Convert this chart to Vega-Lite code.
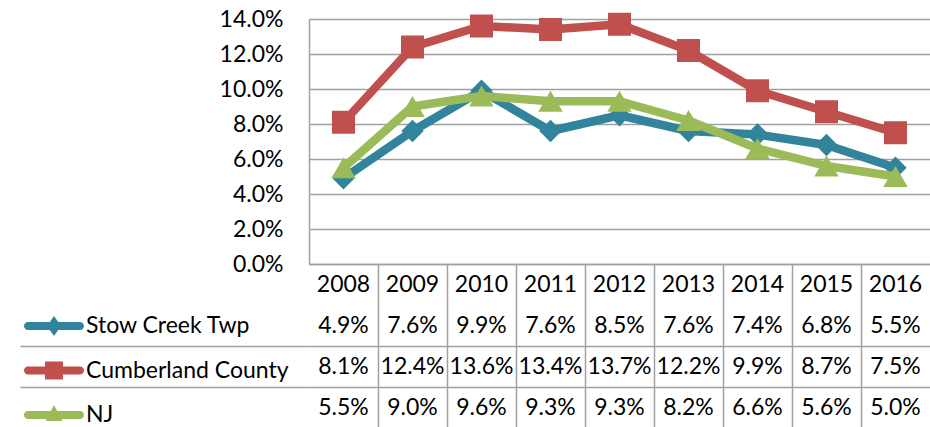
{
  "$schema": "https://vega.github.io/schema/vega-lite/v6.json",
  "padding": {"left": 19, "top": 8, "right": 0, "bottom": 0},
  "background": "white",
  "config": {"view": {"stroke": null}, "font": "Lato"},
  "data": {"values": [
    {"year": "2008", "series": "Stow Creek Twp", "value": 0.049},
    {"year": "2009", "series": "Stow Creek Twp", "value": 0.076},
    {"year": "2010", "series": "Stow Creek Twp", "value": 0.099},
    {"year": "2011", "series": "Stow Creek Twp", "value": 0.076},
    {"year": "2012", "series": "Stow Creek Twp", "value": 0.085},
    {"year": "2013", "series": "Stow Creek Twp", "value": 0.076},
    {"year": "2014", "series": "Stow Creek Twp", "value": 0.074},
    {"year": "2015", "series": "Stow Creek Twp", "value": 0.068},
    {"year": "2016", "series": "Stow Creek Twp", "value": 0.055},
    {"year": "2008", "series": "Cumberland County", "value": 0.081},
    {"year": "2009", "series": "Cumberland County", "value": 0.124},
    {"year": "2010", "series": "Cumberland County", "value": 0.136},
    {"year": "2011", "series": "Cumberland County", "value": 0.134},
    {"year": "2012", "series": "Cumberland County", "value": 0.137},
    {"year": "2013", "series": "Cumberland County", "value": 0.122},
    {"year": "2014", "series": "Cumberland County", "value": 0.099},
    {"year": "2015", "series": "Cumberland County", "value": 0.087},
    {"year": "2016", "series": "Cumberland County", "value": 0.075},
    {"year": "2008", "series": "NJ", "value": 0.055},
    {"year": "2009", "series": "NJ", "value": 0.090},
    {"year": "2010", "series": "NJ", "value": 0.096},
    {"year": "2011", "series": "NJ", "value": 0.093},
    {"year": "2012", "series": "NJ", "value": 0.093},
    {"year": "2013", "series": "NJ", "value": 0.082},
    {"year": "2014", "series": "NJ", "value": 0.066},
    {"year": "2015", "series": "NJ", "value": 0.056},
    {"year": "2016", "series": "NJ", "value": 0.050}
  ]},
  "spacing": 0,
  "bounds": "flush",
  "resolve": {"scale": {"x": "independent", "y": "independent", "color": "independent", "shape": "independent"}},
  "vconcat": [
    {
      "width": 621,
      "height": 245,
      "encoding": {
        "x": {"field": "year", "type": "ordinal", "scale": {"type": "band", "paddingInner": 0, "paddingOuter": 0},
              "axis": {"title": null, "labels": false, "ticks": false, "grid": false, "domain": true, "domainColor": "#a0a0a0", "domainWidth": 1.5}},
        "y": {"field": "value", "type": "quantitative", "scale": {"domain": [0, 0.14], "nice": false, "zero": true},
              "axis": {"title": null, "values": [0, 0.02, 0.04, 0.06, 0.08, 0.1, 0.12, 0.14], "format": ".1%",
                       "labelFont": "Lato", "labelFontSize": 23, "labelColor": "black", "labelPadding": 26,
                       "ticks": false, "tickSize": 0, "domain": true, "domainColor": "#a0a0a0", "domainWidth": 1.5,
                       "grid": true, "gridColor": "#a0a0a0", "gridWidth": 1.5}}
      },
      "layer": [
        {"transform": [{"filter": "datum.series == 'Stow Creek Twp'"}],
         "mark": {"type": "line", "color": "#31849B", "strokeWidth": 8.5, "strokeCap": "round", "strokeJoin": "round"}},
        {"transform": [{"filter": "datum.series == 'Stow Creek Twp'"}],
         "mark": {"type": "point", "shape": "diamond", "filled": true, "size": 500, "color": "#31849B", "opacity": 1}},
        {"transform": [{"filter": "datum.series == 'Cumberland County'"}],
         "mark": {"type": "line", "color": "#C0504D", "strokeWidth": 8.5, "strokeCap": "round", "strokeJoin": "round"}},
        {"transform": [{"filter": "datum.series == 'Cumberland County'"}],
         "mark": {"type": "point", "shape": "square", "filled": true, "size": 529, "color": "#C0504D", "opacity": 1}},
        {"transform": [{"filter": "datum.series == 'NJ'"}],
         "mark": {"type": "line", "color": "#9BBB59", "strokeWidth": 8.5, "strokeCap": "round", "strokeJoin": "round"}},
        {"transform": [{"filter": "datum.series == 'NJ'"}],
         "mark": {"type": "point", "shape": "triangle-up", "filled": true, "size": 600, "color": "#9BBB59", "opacity": 1}}
      ]
    },
    {
      "width": 621,
      "height": 164,
      "layer": [
        {
          "mark": {"type": "text", "font": "Lato", "fontSize": 23, "color": "black", "align": "center", "baseline": "middle"},
          "encoding": {
            "x": {"field": "year", "type": "ordinal", "scale": {"type": "band", "paddingInner": 0, "paddingOuter": 0},
                  "axis": {"title": null, "values": ["2009", "2010", "2011", "2012", "2013", "2014", "2015", "2016"], "bandPosition": 0,
                           "grid": true, "gridColor": "#a0a0a0", "gridWidth": 1.5, "ticks": false, "labels": false, "domain": false}},
            "y": {"field": "series", "type": "nominal",
                  "scale": {"type": "band", "domain": ["hdr", "Stow Creek Twp", "Cumberland County", "NJ"], "paddingInner": 0, "paddingOuter": 0},
                  "axis": {"title": null, "values": ["Cumberland County", "NJ"], "bandPosition": 0,
                           "ticks": true, "tickSize": 289, "tickColor": "#a0a0a0", "tickWidth": 1.5,
                           "grid": true, "gridColor": "#a0a0a0", "gridWidth": 1.5, "labels": false, "domain": false}},
            "text": {"field": "value", "type": "quantitative", "format": ".1%"}
          }
        },
        {
          "transform": [{"filter": "datum.series == 'NJ'"}],
          "mark": {"type": "text", "font": "Lato", "fontSize": 23, "color": "black", "align": "center", "baseline": "middle"},
          "encoding": {
            "x": {"field": "year", "type": "ordinal"},
            "y": {"datum": "hdr", "type": "nominal"},
            "text": {"field": "year", "type": "nominal"}
          }
        },
        {
          "transform": [{"filter": "false"}],
          "mark": {"type": "point", "filled": true, "opacity": 1},
          "encoding": {
            "color": {"field": "series", "type": "nominal",
                      "scale": {"domain": ["Stow Creek Twp", "Cumberland County", "NJ"], "range": ["#31849B", "#C0504D", "#9BBB59"]},
                      "legend": {"title": null, "orient": "none", "legendX": -285, "legendY": 32, "direction": "vertical",
                                 "symbolSize": 3600, "symbolStrokeWidth": 0, "labelFont": "Lato", "labelFontSize": 23,
                                 "labelColor": "black", "labelOffset": 2, "labelLimit": 400, "rowPadding": 2.5, "padding": 0, "symbolOpacity": 1}},
            "shape": {"field": "series", "type": "nominal",
                      "scale": {"domain": ["Stow Creek Twp", "Cumberland County", "NJ"],
                                "range": [
                                  "M-0.867,-0.133H0.867A0.133,0.133 0 0 1 0.867,0.133H-0.867A0.133,0.133 0 0 1 -0.867,-0.133ZM0,-0.33L0.233,0L0,0.33L-0.233,0Z",
                                  "M-0.867,-0.133H0.867A0.133,0.133 0 0 1 0.867,0.133H-0.867A0.133,0.133 0 0 1 -0.867,-0.133ZM-0.3,-0.3H0.3V0.3H-0.3Z",
                                  "M-0.867,-0.133H0.867A0.133,0.133 0 0 1 0.867,0.133H-0.867A0.133,0.133 0 0 1 -0.867,-0.133ZM0,-0.33L0.28,0.2L-0.28,0.2Z"
                                ]},
                      "legend": {"title": null, "orient": "none", "legendX": -285, "legendY": 32, "direction": "vertical",
                                 "symbolSize": 3600, "symbolStrokeWidth": 0, "labelFont": "Lato", "labelFontSize": 23,
                                 "labelColor": "black", "labelOffset": 2, "labelLimit": 400, "rowPadding": 2.5, "padding": 0, "symbolOpacity": 1}}
          }
        }
      ]
    }
  ]
}
